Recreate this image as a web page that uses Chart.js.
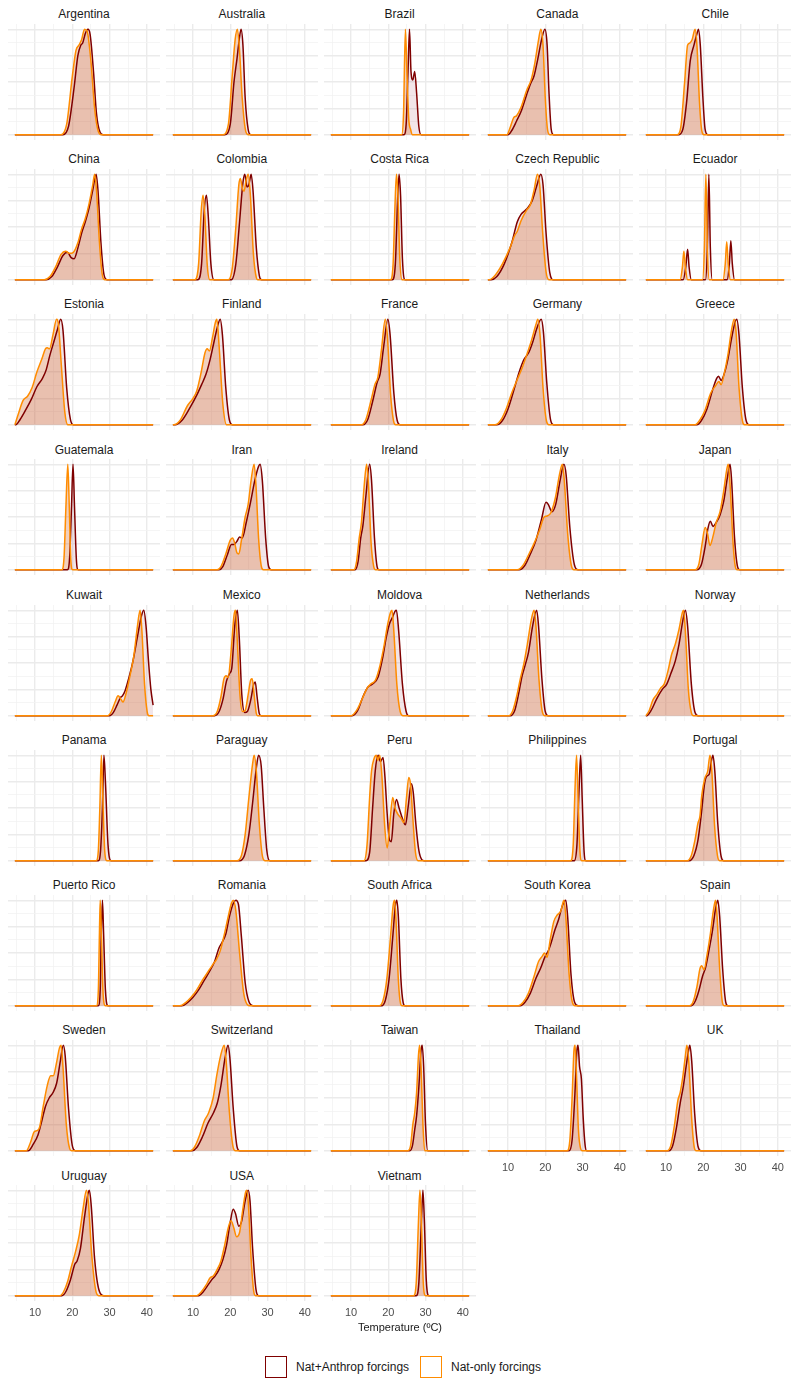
<!DOCTYPE html>
<html>
<head>
<meta charset="utf-8">
<script src="https://cdn.jsdelivr.net/npm/chart.js@4"></script>
<style>
  body { margin: 0; background: #fff; font-family: "Liberation Sans", Arial, sans-serif; }
  #page { position: relative; width: 800px; height: 1389px; }
  .panel-title { position: absolute; width: 152px; text-align: center; font-size: 12px; line-height: 14px; color: #1a1a1a; }
  .panel canvas { position: absolute; }
  #xtitle { position: absolute; left: 0; width: 800px; top: 1320px; text-align: center; font-size: 11px; line-height: 14px; color: #1a1a1a; }
  .key { position: absolute; top: 1356px; width: 20px; height: 20px; border: 1.5px solid; background: #fff; }
  .key-label { position: absolute; top: 1360px; font-size: 12px; line-height: 14px; color: #1a1a1a; }
</style>
</head>
<body>
<div id="page"></div>
<script>
// Countries, one small panel each
const countries = ['Argentina', 'Australia', 'Brazil', 'Canada', 'Chile',
  'China', 'Colombia', 'Costa Rica', 'Czech Republic', 'Ecuador',
  'Estonia', 'Finland', 'France', 'Germany', 'Greece',
  'Guatemala', 'Iran', 'Ireland', 'Italy', 'Japan',
  'Kuwait', 'Mexico', 'Moldova', 'Netherlands', 'Norway',
  'Panama', 'Paraguay', 'Peru', 'Philippines', 'Portugal',
  'Puerto Rico', 'Romania', 'South Africa', 'South Korea', 'Spain',
  'Sweden', 'Switzerland', 'Taiwan', 'Thailand', 'UK',
  'Uruguay', 'USA', 'Vietnam'];

// temperature (ºC) range covered by every curve
const tempRange = [4.6, 41.7];
const xTickLabels = [10, 20, 30, 40];
const xMinorBreaks = [5, 15, 25, 35];

// scaled density, [temperature, density] — Nat+Anthrop forcings
const natAnthrop = [
  [[17.5,0],[19,0.08],[20.5,0.45],[21.5,0.75],[22.3,0.85],[22.8,0.87],[23.5,0.96],[24.2,1],[24.8,0.95],[25.7,0.6],[26.5,0.2],[27.5,0.02],[28.3,0]],
  [[18.5,0],[20,0.1],[21,0.5],[21.8,0.72],[22.4,0.9],[22.9,1],[23.4,0.85],[24,0.35],[24.8,0.05],[25.5,0]],
  [[24.2,0],[24.8,0.1],[25.3,0.6],[25.7,1],[26.1,0.6],[26.6,0.52],[27.1,0.6],[27.6,0.4],[28.2,0.08],[28.8,0]],
  [[10,0],[11,0.04],[12.3,0.13],[13.5,0.22],[15,0.38],[16,0.48],[17,0.56],[18,0.72],[19,0.9],[19.9,1],[20.5,0.85],[21,0.4],[21.6,0.05],[22.2,0]],
  [[13.3,0],[14.5,0.05],[15.5,0.3],[16.5,0.7],[17.5,0.85],[18.4,0.97],[18.7,1],[19.2,0.85],[19.9,0.35],[20.5,0.05],[21.2,0]],
  [[13,0],[14.5,0.03],[16,0.12],[17.5,0.23],[18.7,0.26],[19.7,0.21],[20.5,0.2],[21.5,0.3],[22.5,0.44],[23.5,0.55],[24.5,0.68],[25.5,0.85],[26.4,1],[26.9,0.85],[27.7,0.35],[28.5,0.05],[29.3,0]],
  [[11.3,0],[12.3,0.15],[13,0.65],[13.6,0.8],[14.1,0.6],[14.8,0.15],[15.6,0],[20.3,0],[21.5,0.15],[22.5,0.55],[23.4,0.92],[23.9,1],[24.5,0.88],[25,0.9],[25.6,1],[26.1,0.85],[27,0.3],[27.8,0.04],[28.4,0]],
  [[21.1,0],[21.9,0.15],[22.5,0.75],[22.9,1],[23.3,0.8],[23.8,0.2],[24.5,0]],
  [[5.5,0],[7,0.03],[9,0.15],[11,0.35],[12.5,0.55],[13.5,0.62],[15,0.67],[16.5,0.75],[17.8,0.9],[18.8,1],[19.4,0.9],[20.2,0.45],[21.2,0.07],[22.2,0]],
  [[14.6,0],[15.3,0.12],[15.8,0.29],[16.2,0.12],[16.8,0],[20.6,0],[21.1,0.3],[21.5,1],[21.9,0.3],[22.4,0],[26.4,0],[27,0.15],[27.4,0.37],[27.8,0.15],[28.4,0]],
  [[4.8,0],[6,0.05],[7.5,0.14],[9,0.24],[10.5,0.36],[12,0.44],[13,0.52],[14,0.66],[15,0.78],[16,0.9],[16.9,1],[17.5,0.9],[18.5,0.35],[19.5,0.05],[20.3,0]],
  [[5.2,0],[7,0.04],[9,0.15],[11,0.28],[12.3,0.38],[13.5,0.48],[14.6,0.62],[15.6,0.78],[16.5,0.92],[17.3,1],[17.9,0.85],[18.8,0.35],[19.8,0.04],[20.6,0]],
  [[13.2,0],[14.5,0.05],[15.8,0.22],[17,0.4],[17.8,0.48],[18.8,0.75],[19.9,1],[20.5,0.85],[21.5,0.3],[22.4,0.04],[23.2,0]],
  [[7,0],[8.5,0.04],[10,0.15],[11.5,0.32],[13,0.5],[14.3,0.62],[15.5,0.68],[16.6,0.78],[17.8,0.92],[18.9,1],[19.5,0.88],[20.4,0.4],[21.4,0.05],[22.2,0]],
  [[18.3,0],[19.5,0.04],[21,0.15],[22.5,0.33],[23.6,0.44],[24.1,0.46],[24.8,0.42],[25.6,0.48],[26.6,0.62],[27.6,0.82],[28.6,0.98],[29,1],[29.6,0.85],[30.5,0.35],[31.5,0.04],[32.3,0]],
  [[18.7,0],[19.3,0.12],[19.8,0.6],[20.2,1],[20.6,0.6],[21.1,0.1],[21.6,0]],
  [[17,0],[18,0.03],[19.3,0.15],[20.3,0.24],[21,0.24],[21.8,0.27],[22.5,0.31],[23.2,0.3],[24.3,0.45],[25.5,0.65],[26.6,0.85],[27.6,0.98],[28,1],[28.6,0.85],[29.5,0.3],[30.3,0.03],[31,0]],
  [[11.1,0],[11.9,0.08],[12.6,0.3],[13.2,0.42],[14,0.7],[15,1],[15.5,0.85],[16.3,0.3],[17,0.03],[17.5,0]],
  [[13,0],[14.5,0.04],[16,0.15],[17.5,0.28],[19,0.48],[20.2,0.64],[20.8,0.62],[21.8,0.55],[22.8,0.62],[24,0.85],[25,1],[25.6,0.9],[26.6,0.4],[27.8,0.05],[28.8,0]],
  [[18.3,0],[19.5,0.05],[20.5,0.22],[21.3,0.4],[21.9,0.46],[22.6,0.41],[23.5,0.45],[24.5,0.52],[25.5,0.65],[26.5,0.88],[27.2,1],[27.6,0.85],[28.4,0.3],[29.2,0.03],[29.8,0]],
  [[30,0],[31,0.03],[32,0.1],[32.9,0.17],[33.5,0.19],[34.2,0.24],[35.2,0.36],[36.3,0.52],[37.5,0.75],[38.6,0.95],[39.2,1],[39.8,0.85],[40.5,0.5],[41.1,0.25],[41.7,0.1]],
  [[15.8,0],[17,0.04],[18,0.15],[19,0.33],[19.8,0.4],[20.4,0.45],[21.2,0.85],[21.9,1],[22.4,0.75],[23.1,0.2],[23.9,0.03],[24.6,0.04],[25.5,0.15],[26.3,0.3],[26.7,0.32],[27.2,0.18],[27.8,0.02],[28.3,0]],
  [[10.3,0],[11.8,0.05],[13.2,0.18],[14.5,0.27],[15.8,0.3],[17.3,0.37],[18.5,0.55],[19.5,0.75],[20.4,0.88],[21.1,0.93],[21.8,0.99],[22.2,1],[22.8,0.8],[23.8,0.3],[24.8,0.04],[25.5,0]],
  [[10.6,0],[11.8,0.05],[12.8,0.2],[13.8,0.38],[14.6,0.48],[15.5,0.6],[16.6,0.85],[17.7,1],[18.2,0.85],[19.1,0.35],[20,0.04],[20.8,0]],
  [[4.8,0],[6,0.05],[7.5,0.16],[9,0.25],[10.2,0.3],[11.3,0.4],[12.5,0.52],[13.5,0.68],[14.5,0.9],[15.2,1],[15.8,0.85],[16.8,0.3],[17.8,0.03],[18.6,0]],
  [[27,0],[27.6,0.1],[28.1,0.5],[28.5,1],[28.9,0.75],[29.6,0.15],[30.4,0]],
  [[22.5,0],[23.8,0.05],[25,0.25],[26,0.55],[27,0.88],[27.6,1],[28.3,0.9],[29,0.5],[29.8,0.1],[30.6,0]],
  [[14,0],[15,0.08],[15.8,0.5],[16.5,0.85],[17.3,1],[17.9,0.94],[18.6,0.98],[19.1,0.8],[19.7,0.45],[20.3,0.2],[20.8,0.18],[21.5,0.45],[22.2,0.58],[22.9,0.5],[23.8,0.4],[24.6,0.34],[25.3,0.5],[26.2,0.73],[26.7,0.65],[27.4,0.35],[28.2,0.1],[29,0.01],[29.6,0]],
  [[27.8,0],[28.5,0.15],[29.1,0.7],[29.5,1],[29.9,0.6],[30.4,0.1],[30.9,0]],
  [[16.2,0],[17.5,0.05],[18.6,0.2],[19.5,0.45],[20.3,0.72],[20.9,0.8],[21.6,0.82],[22.2,0.95],[22.6,1],[23.1,0.85],[23.9,0.35],[24.8,0.04],[25.5,0]],
  [[27,0],[27.5,0.15],[27.8,0.7],[28.1,1],[28.4,0.7],[28.9,0.15],[29.6,0]],
  [[7,0],[8.5,0.03],[10,0.08],[11.5,0.15],[13,0.24],[14.5,0.33],[15.8,0.42],[17,0.55],[17.8,0.6],[18.8,0.68],[19.8,0.85],[20.8,0.97],[21.5,1],[22.2,0.96],[23,0.65],[24,0.22],[25,0.04],[26.2,0]],
  [[18.2,0],[19.2,0.05],[20.2,0.25],[21.2,0.65],[21.9,0.95],[22.3,1],[22.7,0.85],[23.4,0.25],[24,0.03],[24.5,0]],
  [[13.3,0],[14.5,0.03],[16,0.12],[17.5,0.26],[18.8,0.36],[20,0.47],[20.8,0.52],[21.6,0.6],[22.6,0.72],[23.6,0.82],[24.6,0.95],[25.5,1],[26,0.85],[26.9,0.3],[27.9,0.03],[28.8,0]],
  [[16.8,0],[17.8,0.04],[18.8,0.14],[19.8,0.28],[20.6,0.36],[21.5,0.52],[22.5,0.72],[23.3,0.92],[23.9,1],[24.4,0.85],[25.2,0.35],[26,0.04],[26.6,0]],
  [[8.2,0],[9.5,0.06],[10.8,0.15],[11.8,0.28],[12.8,0.42],[13.8,0.5],[14.8,0.55],[15.8,0.64],[16.8,0.85],[17.6,1],[18.1,0.9],[19,0.4],[20,0.05],[20.8,0]],
  [[9.8,0],[11,0.03],[12.5,0.13],[14,0.26],[15.5,0.36],[16.5,0.45],[17.5,0.62],[18.6,0.88],[19.4,1],[19.9,0.88],[20.8,0.4],[21.8,0.04],[22.5,0]],
  [[25.8,0],[26.5,0.05],[27.1,0.2],[27.6,0.33],[28.2,0.6],[28.8,0.95],[29.1,1],[29.5,0.8],[30,0.25],[30.6,0]],
  [[26.4,0],[27.2,0.1],[27.9,0.5],[28.5,0.95],[28.8,1],[29.2,0.8],[29.7,0.68],[30.2,0.3],[30.7,0.05],[31.1,0]],
  [[10.8,0],[11.8,0.05],[12.8,0.22],[13.8,0.45],[14.6,0.6],[15.4,0.8],[16.1,0.96],[16.4,1],[16.9,0.85],[17.7,0.35],[18.6,0.04],[19.4,0]],
  [[17.2,0],[18.3,0.04],[19.5,0.15],[20.7,0.3],[21.3,0.33],[22.2,0.45],[23.3,0.75],[24.3,0.98],[24.6,1],[25.1,0.85],[26,0.35],[27.3,0.04],[28.5,0]],
  [[11.5,0],[12.8,0.04],[14,0.1],[15,0.15],[16,0.19],[17,0.25],[18,0.34],[19,0.48],[20,0.7],[20.8,0.82],[21.4,0.78],[22.3,0.66],[23,0.7],[24,0.9],[24.8,1],[25.3,0.9],[26,0.45],[26.9,0.06],[27.6,0]],
  [[27.5,0],[28.2,0.12],[28.9,0.7],[29.3,1],[29.7,0.7],[30.2,0.15],[30.9,0]]
];

// scaled density, [temperature, density] — Nat-only forcings
const natOnly = [
  [[17,0],[18.5,0.1],[20,0.55],[21,0.8],[21.8,0.85],[22.5,0.9],[23.3,1],[24,0.98],[25,0.7],[26,0.25],[27,0.03],[27.8,0]],
  [[18,0],[19.5,0.1],[20.5,0.55],[21.3,0.9],[21.9,1],[22.4,0.85],[23.2,0.35],[24,0.06],[24.8,0]],
  [[23.6,0],[24.1,0.2],[24.6,1],[25,0.6],[25.5,0.15],[26,0.05],[26.5,0]],
  [[9.7,0],[10.5,0.06],[11.5,0.16],[12.3,0.18],[13.5,0.26],[15,0.42],[16.2,0.52],[17.2,0.68],[18.2,0.9],[18.8,1],[19.4,0.85],[20,0.35],[20.6,0.05],[21.2,0]],
  [[13,0],[14,0.08],[15,0.5],[15.8,0.85],[16.4,0.87],[17,0.9],[17.8,1],[18.3,0.85],[19,0.3],[19.6,0.04],[20.2,0]],
  [[12.5,0],[14,0.03],[15.5,0.12],[17,0.24],[18.2,0.27],[19.3,0.25],[20.3,0.26],[21.5,0.35],[22.5,0.48],[23.5,0.58],[24.5,0.72],[25.5,0.9],[26,1],[26.5,0.85],[27.3,0.35],[28,0.06],[28.7,0]],
  [[10.5,0],[11.5,0.15],[12.2,0.65],[12.7,0.8],[13.2,0.6],[13.8,0.15],[14.5,0],[19.5,0],[20.5,0.1],[21.5,0.5],[22.3,0.9],[22.7,0.96],[23.3,0.86],[23.7,0.84],[24.3,0.95],[24.8,1],[25.4,0.8],[26.2,0.25],[27,0.02],[27.4,0]],
  [[20.6,0],[21.3,0.15],[21.8,0.7],[22.2,1],[22.6,0.8],[23.1,0.2],[23.7,0]],
  [[5,0],[6.5,0.04],[8.5,0.15],[10.5,0.3],[11.8,0.42],[12.5,0.46],[13.5,0.56],[15,0.66],[16,0.71],[17,0.85],[17.9,1],[18.5,0.9],[19.3,0.45],[20.2,0.08],[21,0]],
  [[13.8,0],[14.4,0.12],[14.8,0.27],[15.2,0.12],[15.8,0],[19.8,0],[20.3,0.3],[20.7,1],[21.1,0.3],[21.6,0],[25.3,0],[25.9,0.15],[26.3,0.36],[26.7,0.15],[27.3,0]],
  [[4.6,0],[5.5,0.1],[6.8,0.23],[8,0.27],[9.2,0.35],[10.5,0.5],[11.8,0.62],[12.8,0.72],[13.3,0.73],[13.9,0.72],[14.8,0.85],[15.8,1],[16.3,0.95],[17,0.6],[18,0.12],[18.8,0]],
  [[4.8,0],[6.5,0.04],[8.5,0.18],[10,0.25],[11,0.32],[12.2,0.5],[13.2,0.68],[13.8,0.72],[14.4,0.7],[15.2,0.82],[16,0.97],[16.4,1],[17,0.75],[18,0.2],[19,0]],
  [[12.8,0],[14,0.05],[15.3,0.22],[16.4,0.38],[17.2,0.45],[18.2,0.72],[19.2,1],[19.8,0.82],[20.6,0.3],[21.4,0.04],[22,0]],
  [[6.5,0],[8,0.04],[9.5,0.15],[11,0.3],[12.5,0.43],[13.8,0.54],[15,0.66],[16.3,0.8],[17.5,0.95],[18,1],[18.6,0.85],[19.4,0.35],[20.3,0.04],[21,0]],
  [[17.8,0],[19,0.04],[20.5,0.14],[22,0.3],[23.3,0.37],[24.2,0.41],[24.8,0.38],[25.6,0.48],[26.6,0.66],[27.6,0.9],[28.3,1],[28.8,0.88],[29.6,0.35],[30.5,0.04],[31.1,0]],
  [[17.2,0],[17.8,0.12],[18.3,0.6],[18.8,1],[19.2,0.6],[19.6,0.1],[20.1,0]],
  [[16.5,0],[17.5,0.03],[18.8,0.15],[20,0.28],[20.6,0.3],[21.2,0.25],[21.8,0.16],[22.3,0.15],[23,0.28],[24,0.5],[24.8,0.62],[25.6,0.85],[26.4,1],[26.9,0.8],[27.6,0.3],[28.3,0.04],[28.9,0]],
  [[10.8,0],[11.5,0.08],[12.2,0.3],[12.8,0.45],[13.5,0.78],[14.2,1],[14.7,0.8],[15.4,0.25],[16.1,0.03],[16.6,0]],
  [[12.5,0],[14,0.04],[15.5,0.14],[17,0.25],[18.5,0.38],[19.7,0.5],[20.5,0.51],[21.5,0.54],[22.7,0.68],[23.8,0.9],[24.6,1],[25.1,0.85],[26,0.35],[27,0.04],[27.7,0]],
  [[17.8,0],[18.8,0.05],[19.7,0.25],[20.5,0.4],[21.1,0.35],[21.8,0.23],[22.5,0.3],[23.5,0.45],[24.5,0.55],[25.5,0.75],[26.3,0.95],[26.7,1],[27.2,0.8],[28,0.25],[28.6,0.03],[29.1,0]],
  [[29.5,0],[30.5,0.04],[31.5,0.13],[32.3,0.19],[33,0.16],[33.6,0.13],[34.5,0.22],[35.5,0.38],[36.5,0.56],[37.5,0.85],[38.2,1],[38.7,0.8],[39.4,0.3],[40.1,0.04],[40.6,0]],
  [[15.3,0],[16.5,0.04],[17.5,0.18],[18.3,0.35],[18.9,0.38],[19.4,0.36],[20.2,0.6],[21,0.95],[21.4,1],[21.9,0.7],[22.6,0.2],[23.3,0.04],[24,0.05],[24.8,0.2],[25.5,0.34],[25.9,0.35],[26.4,0.2],[27,0.02],[27.4,0]],
  [[10,0],[11.5,0.05],[13,0.16],[14.3,0.26],[15.3,0.3],[16.6,0.34],[17.8,0.48],[18.8,0.65],[19.8,0.86],[20.6,0.98],[21,1],[21.5,0.8],[22.3,0.3],[23.2,0.04],[24,0]],
  [[10.2,0],[11.3,0.05],[12.3,0.18],[13.3,0.35],[14.3,0.5],[15.2,0.68],[16.2,0.9],[17,1],[17.5,0.85],[18.3,0.35],[19.2,0.04],[19.9,0]],
  [[4.6,0],[5.5,0.05],[6.5,0.15],[7.5,0.2],[8.5,0.26],[9.5,0.3],[10.5,0.42],[11.5,0.58],[12.5,0.68],[13.5,0.82],[14.4,0.98],[14.7,1],[15.2,0.8],[16,0.25],[16.8,0.03],[17.4,0]],
  [[26.4,0],[27,0.1],[27.4,0.5],[27.8,1],[28.2,0.6],[28.7,0.1],[29.3,0]],
  [[21.8,0],[23,0.05],[24,0.25],[25,0.6],[26,0.92],[26.4,1],[27,0.85],[27.8,0.35],[28.6,0.05],[29.3,0]],
  [[13.5,0],[14.3,0.15],[15,0.6],[15.5,0.85],[16.2,0.97],[16.8,1],[17.2,0.95],[17.7,1],[18.3,0.8],[19,0.35],[19.7,0.12],[20.4,0.35],[21.2,0.6],[21.8,0.5],[22.6,0.44],[23.5,0.4],[24.2,0.36],[24.9,0.6],[25.5,0.79],[26,0.72],[26.6,0.4],[27.3,0.08],[28,0]],
  [[26.8,0],[27.5,0.15],[28,0.7],[28.4,1],[28.8,0.6],[29.3,0.1],[29.8,0]],
  [[15.7,0],[16.8,0.05],[17.8,0.2],[18.6,0.36],[19.1,0.42],[19.6,0.62],[20.4,0.78],[21.2,0.85],[21.8,1],[22.3,0.85],[23,0.35],[23.8,0.05],[24.4,0]],
  [[26.5,0],[27,0.15],[27.3,0.7],[27.5,1],[27.8,0.7],[28.3,0.1],[28.9,0]],
  [[6.5,0],[8,0.03],[9.5,0.08],[11,0.15],[12.5,0.24],[14,0.32],[15.3,0.39],[16.3,0.44],[17.3,0.52],[18.3,0.66],[19.3,0.82],[20.3,0.97],[20.8,1],[21.5,0.9],[22.5,0.5],[23.6,0.12],[24.6,0.01],[25.3,0]],
  [[17.6,0],[18.6,0.05],[19.6,0.25],[20.6,0.65],[21.3,0.95],[21.7,1],[22.1,0.8],[22.7,0.25],[23.3,0.02],[23.7,0]],
  [[12.8,0],[14,0.03],[15.5,0.12],[17,0.28],[18.2,0.42],[19.2,0.47],[19.8,0.5],[20.5,0.46],[21.3,0.62],[22.3,0.8],[23.2,0.86],[24.2,0.9],[25,1],[25.5,0.85],[26.4,0.3],[27.3,0.03],[28,0]],
  [[16.3,0],[17.3,0.04],[18.3,0.18],[19.1,0.35],[19.6,0.38],[20.2,0.34],[21,0.48],[21.9,0.68],[22.7,0.9],[23.3,1],[23.7,0.85],[24.4,0.35],[25.1,0.04],[25.6,0]],
  [[7.7,0],[8.8,0.08],[9.8,0.18],[10.5,0.19],[11.2,0.22],[12.2,0.42],[13.3,0.62],[14.2,0.71],[14.9,0.71],[15.7,0.82],[16.6,0.98],[17,1],[17.5,0.8],[18.4,0.25],[19.3,0.02],[19.8,0]],
  [[9.3,0],[10.5,0.04],[11.8,0.15],[13,0.28],[14.2,0.36],[15.4,0.5],[16.4,0.72],[17.4,0.9],[18.4,1],[18.9,0.85],[19.8,0.35],[20.8,0.03],[21.4,0]],
  [[25.3,0],[26,0.05],[26.6,0.25],[27.1,0.36],[27.6,0.55],[28.1,0.9],[28.4,1],[28.8,0.8],[29.3,0.25],[29.8,0]],
  [[25.9,0],[26.6,0.1],[27.2,0.5],[27.7,0.95],[28,1],[28.4,0.7],[28.9,0.2],[29.5,0.02],[29.9,0]],
  [[10.3,0],[11.3,0.05],[12.3,0.25],[13.2,0.48],[13.8,0.55],[14.5,0.7],[15.2,0.9],[15.6,1],[16.1,0.85],[16.9,0.3],[17.6,0.03],[18.1,0]],
  [[16.7,0],[17.7,0.04],[18.8,0.14],[19.8,0.28],[20.9,0.42],[21.9,0.58],[23,0.85],[23.8,1],[24.3,0.9],[25.2,0.4],[26.3,0.05],[27.1,0]],
  [[11,0],[12.3,0.04],[13.5,0.1],[14.6,0.17],[15.5,0.19],[16.5,0.25],[17.5,0.33],[18.5,0.48],[19.5,0.65],[20.2,0.71],[20.9,0.65],[21.7,0.56],[22.5,0.6],[23.3,0.8],[24.1,0.98],[24.4,1],[24.9,0.85],[25.6,0.35],[26.3,0.04],[26.8,0]],
  [[26.8,0],[27.5,0.12],[28.1,0.7],[28.5,1],[28.9,0.7],[29.4,0.12],[30,0]]
];

// Layout of the facet grid
var nCols = 5;
var colPitch = 157.8, rowPitch = 145.2;
var plotW = 152, plotH = 116, axisH = 20;

function toPoints(pts) {
    var p = pts.slice();
    if (p[0][0] > tempRange[0]) p.unshift([tempRange[0], 0]);
    if (p[p.length - 1][0] < tempRange[1]) p.push([tempRange[1], 0]);
    return p.map(function(d) { return { x: d[0], y: d[1] }; });
}

var page = document.getElementById('page');
var nRows = Math.ceil(countries.length / nCols);

countries.forEach(function(name, i) {
    var col = i % nCols, row = Math.floor(i / nCols);
    // bottom panel of its column gets the tick labels
    var isBottom = (i + nCols) >= countries.length;
    var left = 8 + col * colPitch;
    var top = 23.75 + row * rowPitch;

    var title = document.createElement('div');
    title.className = 'panel-title';
    title.style.left = left + 'px';
    title.style.top = (7 + row * rowPitch) + 'px';
    title.textContent = name;
    page.appendChild(title);

    var wrap = document.createElement('div');
    wrap.className = 'panel';
    var canvas = document.createElement('canvas');
    canvas.width = plotW;
    canvas.height = plotH + (isBottom ? axisH : 0);
    canvas.style.left = left + 'px';
    canvas.style.top = top + 'px';
    wrap.appendChild(canvas);
    page.appendChild(wrap);

    new Chart(canvas.getContext('2d'), {
        type: 'line',
        data: {
            datasets: [{
                label: 'Nat+Anthrop forcings',
                data: toPoints(natAnthrop[i]),
                borderColor: '#7f0000',
                backgroundColor: 'rgba(128, 0, 30, 0.10)',
                borderWidth: 1.5,
                fill: 'origin',
                order: 1
            }, {
                label: 'Nat-only forcings',
                data: toPoints(natOnly[i]),
                borderColor: '#ff8c00',
                backgroundColor: 'rgba(214, 120, 70, 0.35)',
                borderWidth: 1.5,
                fill: 'origin',
                order: 0
            }]
        },
        options: {
            responsive: false,
            animation: false,
            devicePixelRatio: 1,
            layout: { padding: 0 },
            elements: {
                point: { radius: 0 },
                line: { cubicInterpolationMode: 'monotone' }
            },
            plugins: {
                legend: { display: false },
                tooltip: { enabled: false },
                filler: { drawTime: 'beforeDatasetsDraw' }
            },
            scales: {
                x: {
                    type: 'linear',
                    min: 2.75,
                    max: 43.55,
                    border: { display: false },
                    afterBuildTicks: function(scale) {
                        scale.ticks = xMinorBreaks.concat(xTickLabels).sort(function(a, b) { return a - b; })
                            .map(function(v) { return { value: v }; });
                    },
                    afterFit: function(scale) { scale.height = isBottom ? axisH : 0; },
                    grid: {
                        drawTicks: false,
                        color: function(ctx) { return ctx.tick && ctx.tick.value % 10 === 0 ? '#ebebeb' : '#f2f2f2'; },
                        lineWidth: function(ctx) { return ctx.tick && ctx.tick.value % 10 === 0 ? 1.4 : 0.8; }
                    },
                    ticks: {
                        display: isBottom,
                        autoSkip: false,
                        maxRotation: 0,
                        padding: 5,
                        color: '#4d4d4d',
                        font: { family: 'Liberation Sans', size: 11 },
                        callback: function(v) { return xTickLabels.indexOf(v) >= 0 ? String(v) : ''; }
                    }
                },
                y: {
                    min: -0.05,
                    max: 1.05,
                    border: { display: false },
                    afterBuildTicks: function(scale) {
                        scale.ticks = [0, 0.125, 0.25, 0.375, 0.5, 0.625, 0.75, 0.875, 1].map(function(v) { return { value: v }; });
                    },
                    afterFit: function(scale) { scale.width = 0; },
                    grid: {
                        drawTicks: false,
                        color: function(ctx) { return ctx.index % 2 === 0 ? '#ebebeb' : '#f2f2f2'; },
                        lineWidth: function(ctx) { return ctx.index % 2 === 0 ? 1.4 : 0.8; }
                    },
                    ticks: { display: false }
                }
            }
        }
    });
});

// x axis title and legend
var xt = document.createElement('div');
xt.id = 'xtitle';
xt.textContent = 'Temperature (ºC)';
page.appendChild(xt);

[['Nat+Anthrop forcings', '#7f0000', 265, 296], ['Nat-only forcings', '#ff8c00', 420, 451]].forEach(function(k) {
    var box = document.createElement('div');
    box.className = 'key';
    box.style.left = k[2] + 'px';
    box.style.borderColor = k[1];
    page.appendChild(box);
    var lab = document.createElement('div');
    lab.className = 'key-label';
    lab.style.left = k[3] + 'px';
    lab.textContent = k[0];
    page.appendChild(lab);
});
</script>
</body>
</html>
